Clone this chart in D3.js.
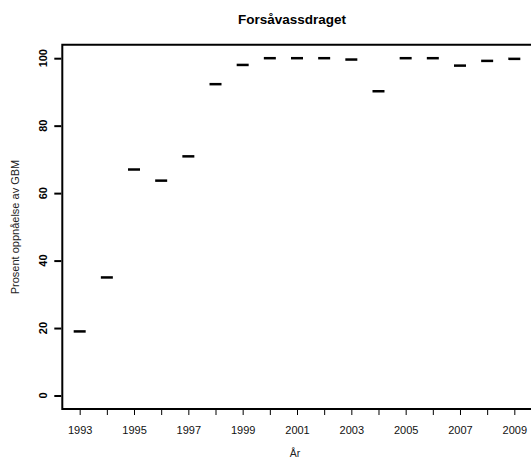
<!DOCTYPE html>
<html><head><meta charset="utf-8">
<script src="https://cdn.jsdelivr.net/npm/d3@7"></script>
<style>body{margin:0;background:#fff}svg{display:block}text{font-family:"Liberation Sans",Arial,sans-serif}</style>
</head><body><svg id="c" width="531" height="462"></svg>
<script>
const years = [1993,1994,1995,1996,1997,1998,1999,2000,2001,2002,2003,2004,2005,2006,2007,2008,2009];
const values = [19,35,67,63.7,70.9,92.3,98,100,100,100,99.6,90.2,100,100,97.8,99.2,99.8];
const yTicks = [0,20,40,60,80,100];
const xLabelYears = [1993,1995,1997,1999,2001,2003,2005,2007,2009];
const title = "Forsåvassdraget";
const xTitle = "År";
const yTitle = "Prosent oppnåelse av GBM";

const svg = d3.select("#c");
const x = d3.scaleLinear().domain([1992.36, 2009.64]).range([62.3, 531.7]);
const y = d3.scaleLinear().domain([-4, 104]).range([409, 44.7]);

// box (left, top, bottom)
svg.append("path").attr("d", `M${x.range()[1]+2},${y(104)}H${x(1992.36)}V${y(-4)}H${x.range()[1]+2}`)
  .attr("fill","none").attr("stroke","#000").attr("stroke-width",2);

// y axis ticks
const ya = svg.append("g").attr("transform",`translate(${x(1992.36)},0)`)
  .call(d3.axisLeft(y).tickValues(yTicks).tickSize(8).tickFormat(""));
ya.select(".domain").remove();
ya.selectAll("line").attr("stroke","#000").attr("stroke-width",2).attr("x1",-1);
ya.selectAll("text").remove();
// rotated y tick labels
svg.append("g").selectAll("text").data(yTicks).join("text")
  .attr("transform", d => `translate(47,${y(d)}) rotate(-90)`)
  .attr("text-anchor","middle")
  .attr("font-size",11).attr("font-weight","bold").attr("fill","#000")
  .text(d => d);

// x axis
const xa = svg.append("g").attr("transform",`translate(0,${y(-4)})`)
  .call(d3.axisBottom(x).tickValues(years).tickSize(6).tickFormat(d => xLabelYears.includes(d) ? d : ""));
xa.select(".domain").remove();
xa.selectAll("line").attr("stroke","#000").attr("stroke-width",1);
xa.selectAll("text").attr("y",17).attr("font-size",11).attr("fill","#111");

// marks
svg.append("g").selectAll("line").data(years).join("line")
  .attr("x1", d => x(d)-6).attr("x2", d => x(d)+6)
  .attr("y1", (d,i) => y(values[i])).attr("y2", (d,i) => y(values[i]))
  .attr("stroke","#000").attr("stroke-width",2.5);

svg.append("text").attr("x",292).attr("y",24).attr("text-anchor","middle")
  .attr("font-size",13.5).attr("font-weight","bold").text(title);
svg.append("text").attr("x",295).attr("y",457).attr("text-anchor","middle")
  .attr("font-size",10.5).attr("fill","#222").text(xTitle);
svg.append("text").attr("transform",`translate(19,227) rotate(-90)`).attr("text-anchor","middle")
  .attr("font-size",11).attr("fill","#222").text(yTitle);
</script></body></html>
